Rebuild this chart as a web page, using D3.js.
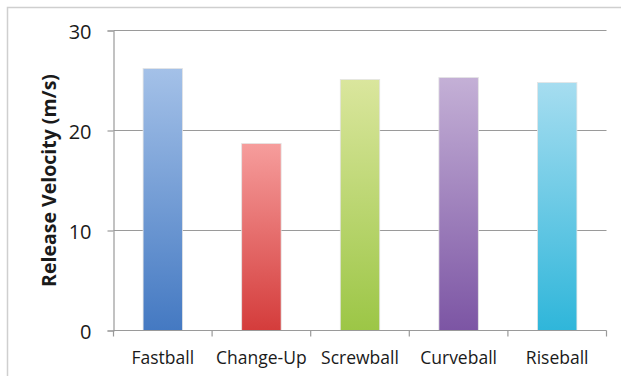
<!DOCTYPE html>
<html>
<head>
<meta charset="utf-8">
<script src="https://cdn.jsdelivr.net/npm/d3@7"></script>
<style>
	body { margin: 0; background: #fff; }
	svg text { font-family: "Open Sans", sans-serif; fill: #1a1a1a; }
</style>
</head>
<body>
<svg id="chart" width="621" height="376"></svg>
<script>
// data
let pitches = ['Fastball', 'Change-Up', 'Screwball', 'Curveball', 'Riseball'],
	velocity = [26.2, 18.7, 25.1, 25.3, 24.8],
	y_ticks = [0, 10, 20, 30],
	color_top = ['#a4c1e8', '#f69d9c', '#dae69d', '#c4b0d6', '#a6ddf0'],
	color_bottom = ['#4479c2', '#d43c3b', '#9cc646', '#7c55a4', '#2fb6da'];

let svg = d3.select('#chart'),
	left = 113.5,
	right = 606.5,
	top_y = 30.5,
	bottom_y = 330.5;

// frame round the chart area
svg.append('path')
	.attr('d', 'M7.5,376 V7.5 H621')
	.attr('fill', 'none')
	.attr('stroke', '#cfcfcf')
	.attr('stroke-width', 1.5);

let xScale = d3.scaleBand()
		.domain(pitches)
		.range([left, right])
		.paddingInner(0.6)
		.paddingOuter(0.3),
	yScale = d3.scaleLinear()
		.domain([0, 30])
		.range([bottom_y, top_y]);

// gradients, one per bar
let defs = svg.append('defs');
pitches.forEach((d, i) => {
	let grad = defs.append('linearGradient')
		.attr('id', `grad-${i}`)
		.attr('x1', 0).attr('y1', 0)
		.attr('x2', 0).attr('y2', 1);
	grad.append('stop').attr('offset', '0%').attr('stop-color', color_top[i]);
	grad.append('stop').attr('offset', '100%').attr('stop-color', color_bottom[i]);
});

// gridlines
svg.append('g')
	.attr('class', 'grid')
	.selectAll('line')
	.data(y_ticks.filter(d => d > 0))
	.enter()
	.append('line')
	.attr('x1', left)
	.attr('x2', right)
	.attr('y1', d => yScale(d))
	.attr('y2', d => yScale(d))
	.attr('stroke', '#9a9a9a')
	.attr('stroke-width', 1.2);

// bars
svg.append('g')
	.selectAll('rect')
	.data(velocity)
	.enter()
	.append('rect')
	.attr('x', (d, i) => xScale(pitches[i]))
	.attr('y', d => yScale(d))
	.attr('width', xScale.bandwidth())
	.attr('height', d => yScale(0) - yScale(d))
	.attr('fill', (d, i) => `url(#grad-${i})`)
	.attr('stroke', '#e4e4e4')
	.attr('stroke-width', 0.8);

// y axis
let yAxis = svg.append('g')
	.attr('transform', `translate(${left},0)`)
	.call(d3.axisLeft(yScale).tickValues(y_ticks).tickSize(6).tickPadding(16));

yAxis.select('.domain').attr('stroke', '#9a9a9a').attr('stroke-width', 1.2);
yAxis.selectAll('.tick line').attr('stroke', '#9a9a9a').attr('stroke-width', 1.2);
yAxis.selectAll('.tick text')
	.attr('font-size', 20)
	.attr('fill', '#1a1a1a')
	.attr('dy', '0.4em')
	.style('font-family', '"Open Sans", sans-serif');

// x axis, ticks sit on band borders
let xAxis = svg.append('g')
	.attr('transform', `translate(0,${bottom_y})`);

xAxis.append('line')
	.attr('x1', left)
	.attr('x2', right)
	.attr('stroke', '#9a9a9a')
	.attr('stroke-width', 1.2);

let borders = pitches.map(d => xScale(d) - xScale.step() * xScale.paddingInner() / 2);
borders.push(right);

xAxis.selectAll('.xtick')
	.data(borders)
	.enter()
	.append('line')
	.attr('class', 'xtick')
	.attr('x1', d => d)
	.attr('x2', d => d)
	.attr('y1', 0)
	.attr('y2', 6)
	.attr('stroke', '#9a9a9a')
	.attr('stroke-width', 1.2);

xAxis.selectAll('.xlabel')
	.data(pitches)
	.enter()
	.append('text')
	.attr('class', 'xlabel')
	.attr('x', d => xScale(d) + xScale.bandwidth() / 2)
	.attr('y', 33.5)
	.attr('text-anchor', 'middle')
	.attr('font-size', 17.5)
	.text(d => d);

// y label
svg.append('text')
	.attr('transform', `translate(56,${(top_y + bottom_y) / 2}) rotate(-90)`)
	.attr('text-anchor', 'middle')
	.attr('font-size', 19.5)
	.attr('font-weight', 'bold')
	.text('Release Velocity (m/s)');
</script>
</body>
</html>
